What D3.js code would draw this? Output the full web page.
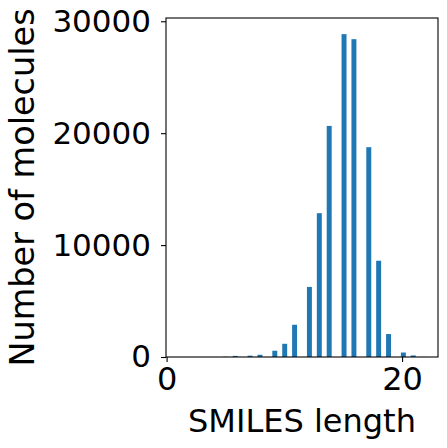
<!DOCTYPE html>
<meta charset="utf-8">
<style>
body { margin: 0; background: #fff; }
svg { display: block; }
text { font-family: "DejaVu Sans", sans-serif; fill: #000; }
.bar { fill: #1f77b4; }
.axis path, .axis line { stroke: #000; stroke-width: 1.1px; }
</style>
<svg width="447" height="448"></svg>
<script src="https://d3js.org/d3.v7.min.js"></script>
<script>
// SMILES length histogram (counts per length)
var lengths = [1, 2, 3, 4, 5, 6, 7, 8, 9, 10, 11, 12, 13, 14, 15, 16, 17, 18, 19, 20, 21, 22];
var counts  = [2, 0, 0, 0, 20, 100, 120, 200, 560, 1180, 2880, 6260, 12850, 20650, 28850, 28400, 18750, 8600, 2050, 400, 140, 10];
var nBins = 50;
var xTicks = [0, 20];
var yTicks = [0, 10000, 20000, 30000];
var xLabel = "SMILES length";
var yLabel = "Number of molecules";

var svg = d3.select("svg"),
    margin = {top: 18, right: 9, bottom: 91, left: 166},
    width = +svg.attr("width") - margin.left - margin.right,
    height = +svg.attr("height") - margin.top - margin.bottom;

var g = svg.append("g").attr("transform", "translate(" + margin.left + "," + margin.top + ")");

// bin the counts the way a 50 bin histogram over [min, max] would
var lo = d3.min(lengths), hi = d3.max(lengths);
var bw = (hi - lo) / nBins;
var bins = d3.range(nBins).map(function(i) { return {x0: lo + i * bw, x1: lo + (i + 1) * bw, n: 0}; });
lengths.forEach(function(v, i) {
  var k = Math.min(nBins - 1, Math.floor((v - lo) / bw + 1e-9));
  bins[k].n += counts[i];
});

var pad = 0.05 * (hi - lo);
var x = d3.scaleLinear().domain([lo - pad, hi + pad]).range([0, width]);
var y = d3.scaleLinear().domain([0, d3.max(bins, function(d) { return d.n; }) * 1.05]).range([height, 0]);

g.selectAll(".bar")
  .data(bins.filter(function(d) { return d.n > 0; }))
  .enter().append("rect")
    .attr("class", "bar")
    .attr("x", function(d) { return x(d.x0); })
    .attr("width", function(d) { return x(d.x1) - x(d.x0); })
    .attr("y", function(d) { return y(d.n); })
    .attr("height", function(d) { return y(0) - y(d.n); });

// axes
var xAxis = g.append("g")
    .attr("class", "axis")
    .attr("transform", "translate(0," + height + ")")
    .call(d3.axisBottom(x).tickValues(xTicks).tickFormat(d3.format("d")).tickSize(5).tickPadding(5).tickSizeOuter(0));
xAxis.selectAll("text").style("font-size", "32px");

var yAxis = g.append("g")
    .attr("class", "axis")
    .call(d3.axisLeft(y).tickValues(yTicks).tickFormat(d3.format("d")).tickSize(5).tickPadding(10).tickSizeOuter(0));
yAxis.selectAll("text").style("font-size", "31px");
g.selectAll(".axis .domain").remove();

// frame
g.append("rect")
    .attr("width", width).attr("height", height)
    .attr("fill", "none").attr("stroke", "#000").attr("stroke-width", 1.1);

// axis titles
svg.append("text")
    .attr("x", margin.left + width / 2)
    .attr("y", 432)
    .attr("text-anchor", "middle")
    .style("font-size", "32px")
    .text(xLabel);

svg.append("text")
    .attr("transform", "translate(34," + (margin.top + height / 2) + ") rotate(-90)")
    .attr("text-anchor", "middle")
    .style("font-size", "33.5px")
    .text(yLabel);
</script>
